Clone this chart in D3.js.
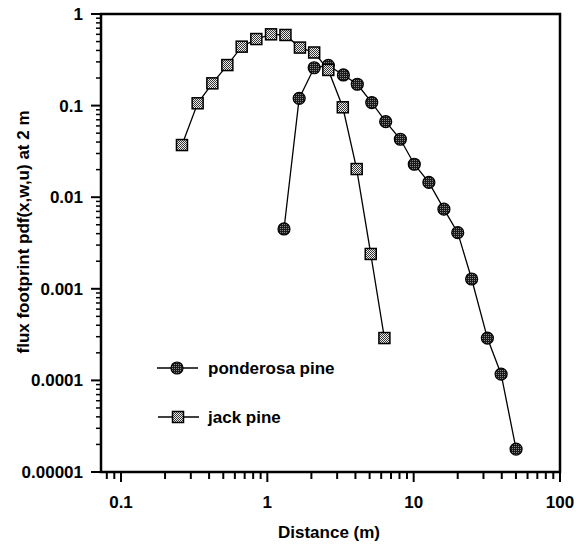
<!DOCTYPE html>
<html>
<head>
<meta charset="utf-8">
<script src="https://cdn.jsdelivr.net/npm/d3@7"></script>
<style>
  body { margin: 0; background: #fff; }
  text { font-family: Arial, "Liberation Sans", Helvetica, sans-serif; font-weight: bold; }
</style>
</head>
<body>
<svg id="chart" width="576" height="547"></svg>
<script>
// values
var pondDist = [1.30, 1.65, 2.09, 2.61, 3.31, 4.12, 5.17, 6.44, 8.11, 10.1, 12.7, 16.1, 20.0, 24.9, 31.9, 39.6, 50.1];
var pondFlux = [0.0045, 0.12, 0.259, 0.275, 0.216, 0.171, 0.108, 0.0668, 0.0429, 0.0229, 0.0145, 0.0074, 0.0041, 0.00128, 0.00029, 0.000117, 0.0000178];

var jackDist = [0.261, 0.334, 0.421, 0.533, 0.668, 0.841, 1.06, 1.33, 1.67, 2.09, 2.61, 3.28, 4.08, 5.09, 6.31];
var jackFlux = [0.0371, 0.106, 0.175, 0.277, 0.44, 0.533, 0.60, 0.59, 0.43, 0.38, 0.245, 0.0958, 0.0203, 0.0024, 0.00029];

var xTicks = [0.1, 1, 10, 100];
var xTickLabels = ["0.1", "1", "10", "100"];
var yTicks = [1, 0.1, 0.01, 0.001, 0.0001, 0.00001];
var yTickLabels = ["1", "0.1", "0.01", "0.001", "0.0001", "0.00001"];
var seriesNames = ["ponderosa pine", "jack pine"];

var svg = d3.select("#chart");

// scales, log both ways
var x = d3.scaleLog().domain([0.073, 100]).range([101, 560]);
var y = d3.scaleLog().domain([0.00001, 1]).range([472, 14]);

// fill patterns to mimic the dotted/checker markers
var defs = svg.append("defs");
var pc = defs.append("pattern").attr("id", "dotfill")
  .attr("width", 2).attr("height", 2).attr("patternUnits", "userSpaceOnUse");
pc.append("rect").attr("width", 2).attr("height", 2).attr("fill", "#1a1a1a");
pc.append("rect").attr("width", 1).attr("height", 1).attr("fill", "#888");
var ps = defs.append("pattern").attr("id", "checkfill")
  .attr("width", 2).attr("height", 2).attr("patternUnits", "userSpaceOnUse");
ps.append("rect").attr("width", 2).attr("height", 2).attr("fill", "#eee");
ps.append("rect").attr("width", 1).attr("height", 1).attr("fill", "#333");
ps.append("rect").attr("x", 1).attr("y", 1).attr("width", 1).attr("height", 1).attr("fill", "#333");

// minor ticks
var xMinor = [];
[0.01, 0.1, 1, 10].forEach(function(d){
  for (var k = 2; k <= 9; k++) { var v = d * k; if (v >= 0.073 && v < 100) xMinor.push(v); }
});
var yMinor = [];
[0.00001, 0.0001, 0.001, 0.01, 0.1].forEach(function(d){
  for (var k = 2; k <= 9; k++) yMinor.push(d * k);
});

// x axis
svg.append("g").selectAll("line.xminor").data(xMinor).enter().append("line")
  .attr("x1", function(d){ return x(d) }).attr("x2", function(d){ return x(d) })
  .attr("y1", 472).attr("y2", 479)
  .attr("stroke", "#000").attr("stroke-width", 2);
svg.append("g").selectAll("line.xmajor").data(xTicks).enter().append("line")
  .attr("x1", function(d){ return x(d) }).attr("x2", function(d){ return x(d) })
  .attr("y1", 472).attr("y2", 482)
  .attr("stroke", "#000").attr("stroke-width", 2);
svg.append("g").selectAll("text").data(xTicks).enter().append("text")
  .attr("x", function(d){ return x(d) }).attr("y", 508)
  .attr("text-anchor", "middle").attr("font-size", 17)
  .text(function(d, i){ return xTickLabels[i] });

// y axis
svg.append("g").selectAll("line.yminor").data(yMinor).enter().append("line")
  .attr("x1", 96).attr("x2", 101)
  .attr("y1", function(d){ return y(d) }).attr("y2", function(d){ return y(d) })
  .attr("stroke", "#000").attr("stroke-width", 1.5);
svg.append("g").selectAll("line.ymajor").data(yTicks).enter().append("line")
  .attr("x1", 91).attr("x2", 101)
  .attr("y1", function(d){ return y(d) }).attr("y2", function(d){ return y(d) })
  .attr("stroke", "#000").attr("stroke-width", 2);
svg.append("g").selectAll("text").data(yTicks).enter().append("text")
  .attr("x", 83).attr("y", function(d){ return y(d) + 6 })
  .attr("text-anchor", "end").attr("font-size", 17)
  .text(function(d, i){ return yTickLabels[i] });

// frame
svg.append("rect")
  .attr("x", x(0.073)).attr("y", y(1))
  .attr("width", x(100) - x(0.073)).attr("height", y(0.00001) - y(1))
  .attr("fill", "none").attr("stroke", "#000").attr("stroke-width", 2.5);

// axis titles
svg.append("text")
  .attr("x", 329).attr("y", 538)
  .attr("text-anchor", "middle").attr("font-size", 17)
  .text("Distance (m)");
svg.append("text")
  .attr("transform", "translate(29,232) rotate(-90)")
  .attr("text-anchor", "middle").attr("font-size", 17)
  .text("flux footprint pdf(x,w,u) at 2 m");

var line = d3.line()
  .x(function(d){ return x(d[0]) })
  .y(function(d){ return y(d[1]) });

var pond = d3.zip(pondDist, pondFlux);
var jack = d3.zip(jackDist, jackFlux);

svg.append("path").datum(pond).attr("d", line)
  .attr("fill", "none").attr("stroke", "#000").attr("stroke-width", 1.3);
svg.append("path").datum(jack).attr("d", line)
  .attr("fill", "none").attr("stroke", "#000").attr("stroke-width", 1.3);

svg.append("g").selectAll("circle").data(pond).enter().append("circle")
  .attr("cx", function(d){ return x(d[0]) })
  .attr("cy", function(d){ return y(d[1]) })
  .attr("r", 6)
  .attr("fill", "url(#dotfill)").attr("stroke", "#000").attr("stroke-width", 1.2);

svg.append("g").selectAll("rect").data(jack).enter().append("rect")
  .attr("x", function(d){ return x(d[0]) - 5.5 })
  .attr("y", function(d){ return y(d[1]) - 5.5 })
  .attr("width", 11).attr("height", 11)
  .attr("fill", "url(#checkfill)").attr("stroke", "#000").attr("stroke-width", 1.5);

// legend
var leg = svg.append("g");
leg.append("line").attr("x1", 157).attr("x2", 198).attr("y1", 368).attr("y2", 368)
  .attr("stroke", "#000").attr("stroke-width", 1.3);
leg.append("circle").attr("cx", 177).attr("cy", 368).attr("r", 6)
  .attr("fill", "url(#dotfill)").attr("stroke", "#000").attr("stroke-width", 1.2);
leg.append("text").attr("x", 208).attr("y", 374).attr("font-size", 17).text(seriesNames[0]);

leg.append("line").attr("x1", 158).attr("x2", 199).attr("y1", 417).attr("y2", 417)
  .attr("stroke", "#000").attr("stroke-width", 1.3);
leg.append("rect").attr("x", 172.5).attr("y", 411.5).attr("width", 11).attr("height", 11)
  .attr("fill", "url(#checkfill)").attr("stroke", "#000").attr("stroke-width", 1.5);
leg.append("text").attr("x", 208).attr("y", 423).attr("font-size", 17).text(seriesNames[1]);
</script>
</body>
</html>
